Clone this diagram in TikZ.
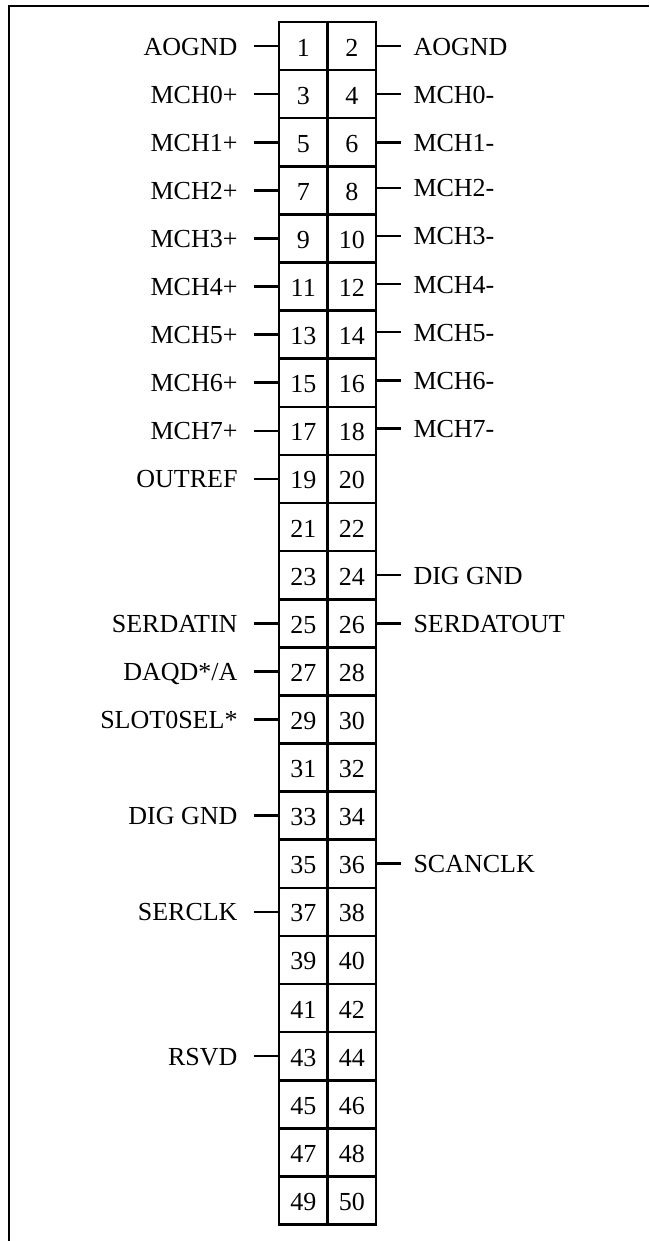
\documentclass[tikz,border=0pt]{standalone}
\usepackage{fontspec}
\setmainfont{Liberation Serif}
\begin{document}
\begin{tikzpicture}[x=1pt,y=-1pt,
  cell/.style={draw,line width=2.6pt,inner sep=0pt,minimum width=48.5pt,minimum height=48.1pt,
    text height=20pt,text depth=0pt,font=\fontsize{26}{30}\selectfont},
  lab/.style={inner ysep=0pt,text height=18pt,text depth=0pt,font=\fontsize{26}{30}\selectfont},
  stub/.style={line width=2.6pt},
  frame/.style={line width=2.5pt}]
\useasboundingbox (0,0) rectangle (649,1241);
\draw[frame] (9,1241) -- (9,6) -- (649,6);
\foreach \r in {0,...,24}{
  \pgfmathtruncatemacro\a{2*\r+1}
  \pgfmathtruncatemacro\b{2*\r+2}
  \node[cell] (c\a) at (303.25,{22+48.1*(\r+0.5)}) {\a};
  \node[cell] (c\b) at (351.75,{22+48.1*(\r+0.5)}) {\b};
}
\newcommand\pinL[2]{\node[lab,anchor=east,inner xsep=16pt] (l#1) at ([xshift=-24pt]c#1.west) {#2};
  \draw[stub] (c#1.west) -- (l#1.east);}
\newcommand\pinR[2]{\node[lab,anchor=west,inner xsep=12pt] (l#1) at ([xshift=24pt]c#1.east) {#2};
  \draw[stub] (c#1.east) -- (l#1.west);}
\newcommand\pinRo[2]{\node[lab,anchor=west,inner xsep=12pt] (l#1) at ([xshift=24pt,yshift=2.5pt]c#1.east) {#2};
  \draw[stub] ([yshift=2.5pt]c#1.east) -- (l#1.west);}
\pinL{1}{AOGND}
\pinL{3}{MCH0+}
\pinL{5}{MCH1+}
\pinL{7}{MCH2+}
\pinL{9}{MCH3+}
\pinL{11}{MCH4+}
\pinL{13}{MCH5+}
\pinL{15}{MCH6+}
\pinL{17}{MCH7+}
\pinL{19}{OUTREF}
\pinL{25}{SERDATIN}
\pinL{27}{DAQD*/A}
\pinL{29}{SLOT0SEL*}
\pinL{33}{DIG GND}
\pinL{37}{SERCLK}
\pinL{43}{RSVD}
\pinR{2}{AOGND}
\pinR{4}{MCH0-}
\pinR{6}{MCH1-}
\pinRo{8}{MCH2-}
\pinRo{10}{MCH3-}
\pinRo{12}{MCH4-}
\pinRo{14}{MCH5-}
\pinRo{16}{MCH6-}
\pinRo{18}{MCH7-}
\pinR{24}{DIG GND}
\pinR{26}{SERDATOUT}
\pinR{36}{SCANCLK}
\end{tikzpicture}
\end{document}
